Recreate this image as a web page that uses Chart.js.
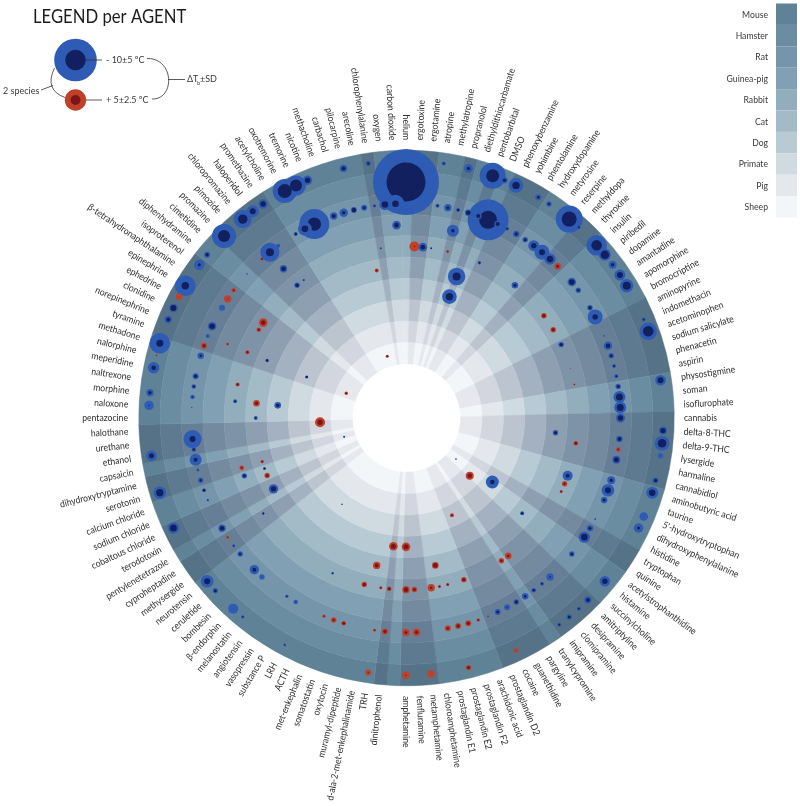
<!DOCTYPE html>
<html>
<head>
<meta charset="utf-8">
<title>Agents and body temperature</title>
<script src="https://cdn.jsdelivr.net/npm/chart.js@4"></script>
<style>
html, body { margin: 0; padding: 0; background: #fff; }
canvas { display: block; }
</style>
</head>
<body>
<canvas id="chart" width="800" height="806"></canvas>
<script>
// clockwise from the top, one spare slot after amphetamine
var agents = ['helium','ergotoxine','ergotamine','atropine','methylatropine','propranolol','diethyldithiocarbamate','pentobarbital','DMSO','phenoxybenzamine','yohimbine','phentolamine','hydroxydopamine','metyrosine','reserpine','methyldopa','thyroxine','insulin','piribedil','dopamine','amantadine','apomorphine','bromocriptine','aminopyrine','indomethacin','acetominophen','sodium salicylate','phenacetin','aspirin','physostigmine','soman','isoflurophate','cannabis','delta-8-THC','delta-9-THC','lysergide','harmaline','cannabidiol','aminobutyric acid','taurine',"5'-hydroxytryptophan",'dihydroxyphenylalanine','histidine','tryptophan','quinine','acetylstrophanthidine','histamine','succinylcholine','amitriptyline','desipramine','clomipramine','imipramine','tranylcypromine','pargyline','guanethidine','cocaine','prostaglandin D2','arachidonic acid','prostaglandin F2','prostaglandin E2','prostaglandin E1','chloroamphetamine','metamphetamine','fenfluramine','amphetamine','','dinitrophenol','TRH','d-ala-2-met-enkephalinamide','muramyl-dipeptide','oxytocin','somatostatin','met-enkephalin','ACTH','LRH','substance P','vasopressin','angiotensin','melanostatin','β-endorphin','bombesin','ceruletide','neurotensin','methysergide','cyproheptadine','pentylenetetrazole','terodotoxin','cobaltous chloride','sodium chloride','calcium chloride','serotonin','dihydroxytryptamine','capsaicin','ethanol','urethane','halothane','pentazocine','naloxone','morphine','naltrexone','meperidine','nalorphine','methadone','tyramine','norepinephrine','clonidine','ephedrine','epinephrine','β-tetrahydronaphthalamine','isoproterenol','diphenhydramine','cimetidine','promazine','pimozide','chloropromazine','haloperidol','promethazine','acetylcholine','oxotremorine','tremorine','nicotine','methacholine','carbachol','pilocarpine','arecoline','chlorophenylalanine','oxygen','carbon dioxide'];

// agent classes that get the darker wedge
var darkAgents = [1,2,5,7,9,10,11,15,16,23,24,25,26,27,28,32,33,34,35,36,37,43,44,48,49,50,51,53,54,55,56,62,63,64,66,83,84,86,87,90,91,93,94,95,103,104,105,106,107,108,109,112,113,114,115,116,125];

var speciesNames = ['Mouse','Hamster','Rat','Guinea-pig','Rabbit','Cat','Dog','Primate','Pig','Sheep'];
var ringColors = ['#5f8296','#6a8da1','#7596aa','#82a0b3','#92adbc','#a3bac7','#b8cad4','#d0dbe1','#e4e8ed','#f3f6f9'];
var ringColorsDark = ['#557287','#5d7a90','#667f97','#738a9f','#7f93a8','#8f9fb2','#a4b1c0','#bcc4cf','#d3d6de','#e6e8ee'];

// [agent index, delta T, SD]
var mouse = [[3,-1,0.5],[5,-1.7,1.3],[7,-6.5,3.25],[8,-1.7,0.8],[9,-3.7,1.8],[11,-1.3,0.85],[12,-1.3,0.7],[14,-7.5,3],[15,-1,0.5],[17,-5.3,2.5],[18,-4.3,0.85],[19,-1.7,1.15],[20,-3,1.25],[21,-4,1.35],[24,-1,0.5],[25,-5.3,1.7],[29,-3,1.15],[33,-2.7,0.65],[34,-4.3,1.5],[35,-0.3,1.2],[37,-1.7,0.65],[38,-3.3,1.35],[40,-0.3,2],[41,-1.5,1.6],[46,-2.7,1.3],[48,-2,0.85],[49,-1,0.5],[50,-1.5,0.6],[51,-1,0.5],[55,0.3,1],[59,1.7,0.5],[62,0.3,1.7],[64,0.7,1.5],[67,0.7,1.15],[74,-0.7,0.3],[78,-0.8,0.45],[79,-0.3,2.35],[81,-1.5,0.6],[82,-3,1.65],[87,-3.5,1.1],[90,-3.7,1.3],[93,-2.5,1.4],[97,-0.7,2],[98,-1.7,1],[100,-2.3,1.7],[101,0.5,0.25],[102,-3.5,3.4],[104,-2,0.85],[105,-3,0.65],[106,0.3,1.5],[107,-3.7,3.3],[109,-1.5,1.9],[110,-1.7,0.65],[112,-6,3],[114,-4.7,2.15],[115,-3,1.5],[116,-2.7,1],[118,-7,2.5],[119,-6,2],[120,-2.7,1],[123,-2,0.85],[125,-1.2,0.75]];
var hamster = [[0,-19.5,6.75]];
var rat = [[3,-1,0.5],[4,-1.5,1.1],[5,-1.3,0.35],[6,-2.3,0.5],[7,-2,0.65],[8,-9,5.75],[9,-2,0.65],[10,-1,0.5],[11,-1.7,0.8],[12,-1.5,0.6],[13,-2.7,1.4],[14,-3,2.25],[15,-3.3,1.2],[16,1.5,0.9],[18,-2.8,0.75],[19,-1.3,0.7],[21,-1.7,0.5],[22,-2.7,2.4],[24,-0.4,0.2],[25,-2.3,1],[26,-1.5,0.6],[27,-1,0.5],[28,-1,0.5],[29,-1.5,0.6],[30,-3.5,1.25],[31,-3.5,1.25],[32,-2.7,0.9],[34,-2,0.65],[35,1,0.65],[36,-2.5,0.75],[38,-1.7,1.15],[39,-3,1.65],[40,-1.5,0.9],[42,-0.6,0.1],[43,-1.5,0.9],[44,-3.3,1.2],[46,-1.5,0.6],[49,-0.8,1.45],[50,-1,0.5],[51,-1.3,0.5],[52,-1.3,1],[53,-1.7,0.5],[54,-0.7,1.15],[55,-1.5,0.75],[56,-0.5,0.1],[57,1,0.35],[58,1.7,0.65],[59,1.7,0.65],[60,1.3,0.85],[63,1.7,1],[64,1.5,1.1],[66,1.7,0.65],[67,0.8,0.35],[70,1.5,0.4],[71,1.2,0.75],[72,0.8,0.45],[75,-0.5,0.9],[76,-0.8,0.45],[79,-0.3,1.2],[80,-2,1.35],[82,-1.3,0.7],[83,-0.8,0.35],[84,0.7,0.4],[85,-2.3,0.7],[88,-0.7,0.25],[89,-1.3,0.35],[90,-1.2,0.75],[91,-0.5,0.5],[92,-2,2],[93,-1.3,0.5],[94,-3,3],[97,-0.3,0.2],[98,-0.7,0.8],[99,-1.2,0.55],[100,-1.7,0.65],[102,-1.2,1.05],[103,1.7,0.65],[104,-0.5,0.75],[105,-2.7,0.8],[107,-0.3,1.35],[108,0.5,1.6],[109,1,0.65],[111,-0.4,0.2],[113,1,0.25],[114,-4,2.75],[115,-0.5,0.75],[117,-1.3,0.35],[118,-3.3,1.85],[119,-6.7,4.15],[121,-2,0.85],[122,-1.7,1.3],[123,-2.2,0.4],[124,-1.5,0.75],[125,-0.8,0.45],[126,-3.3,1.2],[127,-3.3,2.85]];
var guineaPig = [[5,-1.7,2.15],[104,0.8,0.25],[114,-2.3,0.7],[127,-2.3,1]];
var rabbit = [[1,0.7,2.15],[2,-2.3,1],[3,-0.7,0.15],[5,0.7,0.4],[9,-1,0.35],[14,-1.5,0.9],[19,1.7,0.5],[21,1.7,0.5],[23,-1.7,0.5],[26,0.3,0.1],[28,0.6,0.2],[35,1.5,0.4],[39,-2,1.5],[40,1.3,0.7],[41,1,0.25],[51,1.3,1],[52,1.3,0.7],[57,1.7,0.5],[59,1,0.25],[60,1,0.25],[61,1.3,1.2],[63,1.5,0.6],[64,2.3,0.7],[66,1.5,0.4],[67,1,0.25],[69,1.7,0.5],[73,-0.8,0.2],[84,-1,0.1],[89,-1.5,0.6],[90,1,0.65],[98,-1,0.5],[100,1.2,0.4],[104,1.2,0.4],[107,1.2,0.55],[108,2.3,1],[114,-1.7,0.5],[115,-0.7,0.25],[125,-0.5,0.25]];
var cat = [[7,-4,2.35],[34,-1.5,0.6],[46,-1.2,0.4],[60,2.3,0.5],[68,2,0.85],[86,-2.7,1],[88,1.5,0.6],[89,-1,0.25],[90,1,0.35],[96,-1,0.5],[98,1.7,0.8],[104,-1.2,0.25],[124,1,0.5]];
var dog = [[7,-3.7,1.8],[64,2.5,0.9],[66,2.5,0.9],[98,-1.7,0.8]];
var primate = [[45,-2.3,2.1],[55,1,0.5],[77,-0.5,0.1],[104,-1.2,0.15]];
var pig = [[47,2.3,0.85],[95,2.7,1.15]];
var sheep = [[46,-0.5,0.15],[90,-0.7,0.15],[104,1,0.35],[122,1,0.25]];
var speciesData = [mouse, hamster, rat, guineaPig, rabbit, cat, dog, primate, pig, sheep];

var HALO_BLUE = '#2e5bb4', CORE_BLUE = '#13205f', HALO_RED = '#c1402a', CORE_RED = '#7c1518';
var BIG_RADIUS = 8;
var LABEL_FONT = 'Lato, sans-serif';
var LABEL_SQUEEZE = 0.9;

var datasets = [];

// background cells: one doughnut ring per species, neighbouring agents of one shade share a slice
var runs = [];
agents.forEach(function(a, i) {
	var dark = darkAgents.indexOf(i) >= 0;
	if (runs.length && runs[runs.length - 1].dark == dark) runs[runs.length - 1].n++;
	else runs.push({ dark: dark, n: 1 });
});

speciesNames.forEach(function(name, s) {
	var cols = runs.map(function(r) { return r.dark ? ringColorsDark[s] : ringColors[s]; });
	datasets.push({
		type: 'doughnut',
		label: name + ' cells',
		data: runs.map(function(r) { return r.n; }),
		backgroundColor: cols,
		borderColor: cols,
		borderWidth: 0.5,
		borderJoinStyle: 'round',
		rotation: -180 / agents.length,
		cutout: '20.2%',
		weight: 1
	});
});

// two radar layers per point group: the halo first, the core on top
function pointLayer(name, s, rows, core) {
	var vals = agents.map(function() { return null; });
	var radii = agents.map(function() { return 0; });
	var fills = agents.map(function() { return 'transparent'; });
	rows.forEach(function(row) {
		var t = Math.abs(row[1]);
		vals[row[0]] = 9.5 - s;
		radii[row[0]] = core ? t : t + 2 * row[2];
		if (row[1] < 0) fills[row[0]] = core ? CORE_BLUE : HALO_BLUE;
		else fills[row[0]] = core ? CORE_RED : HALO_RED;
	});
	return {
		type: 'radar',
		label: name,
		data: vals,
		showLine: false,
		fill: false,
		weight: 0,
		pointRadius: radii,
		pointBackgroundColor: fills,
		pointBorderWidth: 0
	};
}

speciesNames.forEach(function(name, s) {
	var rows = speciesData[s];
	var big = rows.filter(function(r) { return Math.abs(r[1]) + 2 * r[2] >= BIG_RADIUS; });
	var small = rows.filter(function(r) { return Math.abs(r[1]) + 2 * r[2] < BIG_RADIUS; });
	datasets.push(pointLayer(name, s, big, false));
	datasets.push(pointLayer(name, s, big, true));
	datasets.push(pointLayer(name, s, small, false));
	datasets.push(pointLayer(name, s, small, true));
});

// later entries go on top
datasets.forEach(function(d, i) { d.order = datasets.length - i; });

function circle(ctx, x, y, r, col) {
	ctx.fillStyle = col;
	ctx.beginPath();
	ctx.arc(x, y, r, 0, Math.PI * 2);
	ctx.fill();
}

function segment(ctx, x1, y1, x2, y2) {
	ctx.beginPath();
	ctx.moveTo(x1, y1);
	ctx.lineTo(x2, y2);
	ctx.stroke();
}

var labelsAndLegend = {
	id: 'labelsAndLegend',
	afterDraw: function(chart) {
		var ctx = chart.ctx;
		var scale = chart.scales.r;

		// agent names, rotated along the radius
		ctx.save();
		ctx.font = '9.6px ' + LABEL_FONT;
		ctx.fillStyle = '#2f2f2f';
		ctx.textBaseline = 'middle';
		agents.forEach(function(name, i) {
			if (!name) return;
			var p = scale.getPointPosition(i, 278);
			var rightSide = i > 0 && i <= 64;
			ctx.save();
			ctx.translate(p.x, p.y);
			ctx.rotate(rightSide ? p.angle : p.angle + Math.PI);
			ctx.scale(LABEL_SQUEEZE, 1);
			ctx.textAlign = rightSide ? 'left' : 'right';
			ctx.fillText(name, 0, 0);
			ctx.restore();
		});
		ctx.restore();

		// species key
		ctx.save();
		speciesNames.forEach(function(name, s) {
			ctx.fillStyle = ringColors[s];
			ctx.fillRect(776, 3.5 + s * 21.4, 21, 21.4);
			ctx.save();
			ctx.translate(768, 14.5 + s * 21.4);
			ctx.scale(LABEL_SQUEEZE, 1);
			ctx.fillStyle = '#3a3a3a';
			ctx.font = '9.6px ' + LABEL_FONT;
			ctx.textAlign = 'right';
			ctx.textBaseline = 'middle';
			ctx.fillText(name, 0, 0);
			ctx.restore();
		});
		ctx.restore();

		// agent key
		ctx.save();
		ctx.save();
		ctx.translate(33, 22.5);
		ctx.scale(0.855, 1);
		ctx.fillStyle = '#1c1c1c';
		ctx.font = '19.5px ' + LABEL_FONT;
		ctx.textBaseline = 'alphabetic';
		ctx.fillText('LEGEND per AGENT', 0, 0);
		ctx.restore();

		circle(ctx, 75.5, 60, 21.3, HALO_BLUE);
		circle(ctx, 75.5, 60, 10.3, CORE_BLUE);
		circle(ctx, 75.5, 100, 10.7, HALO_RED);
		circle(ctx, 75.5, 100, 5, CORE_RED);

		ctx.strokeStyle = '#333';
		ctx.lineWidth = 0.8;
		segment(ctx, 85, 60, 102, 60);
		segment(ctx, 86, 100, 102, 100);
		segment(ctx, 168, 79.5, 185, 79.5);
		segment(ctx, 41, 90, 53, 85.5);
		ctx.beginPath();
		ctx.moveTo(54.5, 68);
		ctx.quadraticCurveTo(44, 90, 65, 97.5);
		ctx.stroke();
		ctx.beginPath();
		ctx.moveTo(147, 58.5);
		ctx.bezierCurveTo(175, 58, 175, 100, 152, 99);
		ctx.stroke();

		ctx.fillStyle = '#3a3a3a';
		ctx.font = '9px ' + LABEL_FONT;
		ctx.textBaseline = 'middle';
		ctx.fillText('- 10±5 ºC', 106, 60);
		ctx.fillText('+ 5±2.5 ºC', 106, 100.5);
		ctx.fillText('2 species', 3, 91.5);
		ctx.fillText('ΔT', 187, 79.5);
		ctx.font = '5.5px ' + LABEL_FONT;
		ctx.fillText('b', 197, 83);
		ctx.font = '9px ' + LABEL_FONT;
		ctx.fillText('±SD', 200, 79.5);
		ctx.restore();
	}
};

new Chart(document.getElementById('chart'), {
	type: 'radar',
	data: { labels: agents, datasets: datasets },
	plugins: [labelsAndLegend],
	options: {
		responsive: false,
		animation: false,
		events: [],
		layout: { padding: { left: 138.5, right: 125.5, top: 150, bottom: 120 } },
		plugins: { legend: { display: false }, tooltip: { enabled: false } },
		scales: {
			r: {
				min: -2.52,
				max: 10,
				startAngle: 0,
				grid: { display: false },
				angleLines: { display: false },
				ticks: { display: false },
				pointLabels: { display: false }
			}
		}
	}
});
</script>
</body>
</html>
